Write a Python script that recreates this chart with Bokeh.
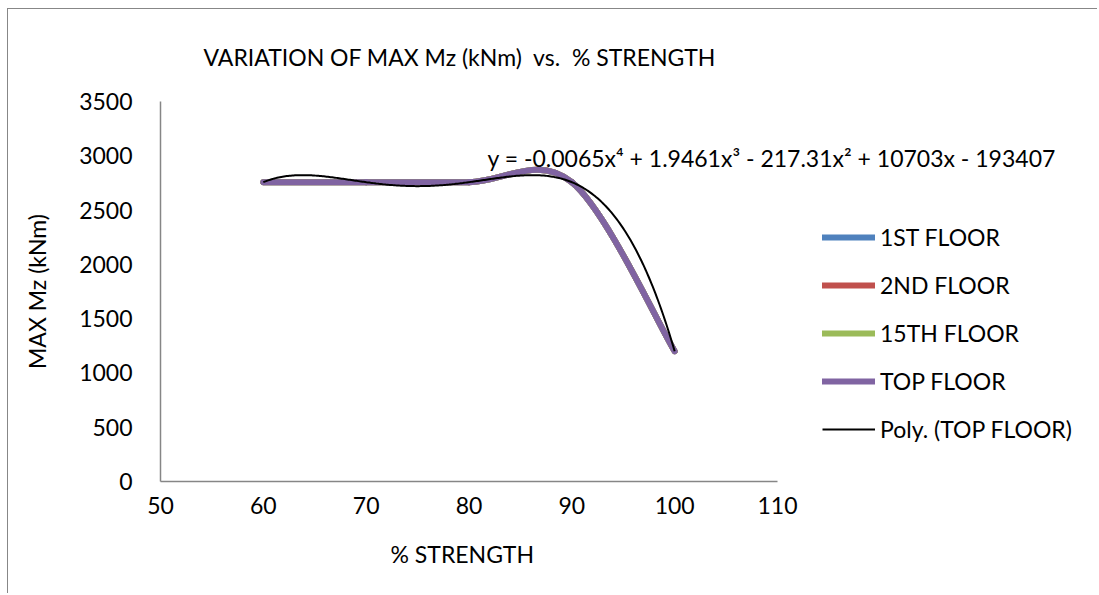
import numpy as np
from bokeh.plotting import figure
from bokeh.models import Range1d, FixedTicker, Legend, LegendItem, Label, ColumnDataSource, Title
from bokeh.embed import file_html
from bokeh.resources import INLINE

# ---- data ----
strength = [60, 70, 80, 90, 100]
floor_1st = [2757, 2757, 2757, 2757, 1200]
floor_2nd = [2757, 2757, 2757, 2757, 1200]
floor_15th = [2757, 2757, 2757, 2757, 1200]
floor_top = [2757, 2757, 2757, 2757, 1200]
series_names = ["1ST FLOOR", "2ND FLOOR", "15TH FLOOR", "TOP FLOOR"]
series_colors = ["#4F81BD", "#C0504D", "#9BBB59", "#8064A2"]
x_ticks = [50, 60, 70, 80, 90, 100, 110]
y_ticks = [0, 500, 1000, 1500, 2000, 2500, 3000, 3500]
title_text = "VARIATION OF MAX Mz (kNm)\u00a0 vs.\u00a0 % STRENGTH"
x_label = "% STRENGTH"
y_label = "MAX Mz (kNm)"
trend_name = "Poly. (TOP FLOOR)"
equation = "y = -0.0065x\u2074 + 1.9461x\u00b3 - 217.31x\u00b2 + 10703x - 193407"

FONT = "Lato"
FS = "23px"


def smooth_segments(xs, ys):
    """Bezier control points for a smoothed (spreadsheet-style) line."""
    xs = np.asarray(xs, float)
    ys = np.asarray(ys, float)
    n = len(xs)
    d = {k: [] for k in ("x0", "y0", "x1", "y1", "cx0", "cy0", "cx1", "cy1")}
    for i in range(n - 1):
        pm = max(i - 1, 0)
        pp = min(i + 2, n - 1)
        d["x0"].append(xs[i]); d["y0"].append(ys[i])
        d["x1"].append(xs[i + 1]); d["y1"].append(ys[i + 1])
        d["cx0"].append(xs[i] + (xs[i + 1] - xs[pm]) / 6.0)
        d["cy0"].append(ys[i] + (ys[i + 1] - ys[pm]) / 6.0)
        d["cx1"].append(xs[i + 1] - (xs[pp] - xs[i]) / 6.0)
        d["cy1"].append(ys[i + 1] - (ys[pp] - ys[i]) / 6.0)
    return ColumnDataSource(d)


# frame spans to the right edge so the legend / equation fit inside it;
# the visible x axis is limited to the tick range via axis bounds
p = figure(width=1090, height=585, output_backend="svg", toolbar_location=None,
           x_range=Range1d(50, 140.44), y_range=Range1d(0, 3500),
           min_border_left=152, min_border_right=8, min_border_top=91, min_border_bottom=113)
p.styles = {"margin-left": "7px", "margin-top": "8px",
            "border-left": "1px solid #878787", "border-top": "1px solid #878787"}
p.outline_line_color = None
p.xgrid.visible = False
p.ygrid.visible = False
p.background_fill_color = "white"
p.border_fill_color = "white"

p.title.text = title_text
p.title.align = "left"
p.title.offset = 43
p.title.text_font = FONT
p.title.text_font_size = FS
p.title.text_font_style = "normal"
p.title.text_color = "black"
p.title.standoff = 62

for ax, ticks in ((p.xaxis[0], x_ticks), (p.yaxis[0], y_ticks)):
    ax.ticker = FixedTicker(ticks=ticks)
    ax.bounds = (ticks[0], ticks[-1])
    ax.major_tick_line_color = None
    ax.minor_tick_line_color = None
    ax.axis_line_color = "#868686"
    ax.axis_line_width = 1.5
    ax.major_label_text_font = FONT
    ax.major_label_text_font_size = FS
    ax.major_label_text_color = "black"
    ax.axis_label_text_font = FONT
    ax.axis_label_text_font_size = FS
    ax.axis_label_text_font_style = "normal"
    ax.axis_label_text_color = "black"

p.yaxis.axis_label = y_label
p.yaxis.major_label_standoff = 22
p.xaxis.major_label_standoff = 9
p.yaxis.axis_label_standoff = 25

# x-axis title placed under the bounded axis
xt = Title(text=x_label, align="left", offset=230, standoff=42,
           text_font=FONT, text_font_size=FS, text_font_style="normal", text_color="black")
p.add_layout(xt, "below")

renderers = []
for name, ys, col in zip(series_names, [floor_1st, floor_2nd, floor_15th, floor_top], series_colors):
    src = smooth_segments(strength, ys)
    r = p.bezier(x0="x0", y0="y0", x1="x1", y1="y1", cx0="cx0", cy0="cy0", cx1="cx1", cy1="cy1",
                 source=src, line_color=col, line_width=6, line_cap="round", line_join="round")
    renderers.append((name, r))

coef = np.polyfit(strength, floor_top, 4)
tx = np.linspace(min(strength), max(strength), 300)
tr = p.line(tx, np.polyval(coef, tx), line_color="black", line_width=2)
renderers.append((trend_name, tr))

p.add_layout(Label(x=81.8, y=2976, text=equation, text_font=FONT, text_font_size=FS,
                   text_baseline="middle", text_align="left", text_color="black"))

legend = Legend(items=[LegendItem(label=n, renderers=[r]) for n, r in renderers],
                location=(662, 38), glyph_width=53, glyph_height=28, label_height=28,
                label_standoff=5, spacing=20, padding=0, margin=0,
                border_line_color=None, background_fill_alpha=0,
                label_text_font=FONT, label_text_font_size=FS, label_text_color="black")
p.add_layout(legend, "center")

open("out.html", "w").write(file_html(p, INLINE))
